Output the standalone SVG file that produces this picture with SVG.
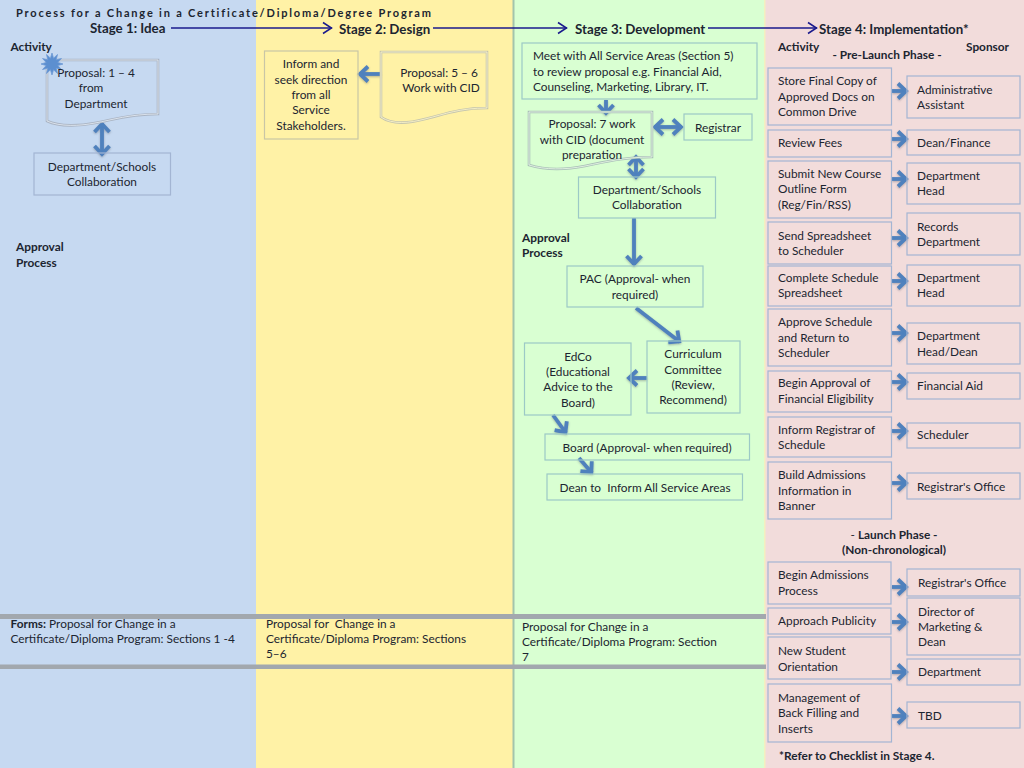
<svg xmlns="http://www.w3.org/2000/svg" width="1024" height="768" viewBox="0 0 1024 768">
<style>
text{font-family:Lato,"Open Sans","Liberation Sans",sans-serif;font-size:11.85px;fill:#1c2530}
.m{text-anchor:middle}
.b{font-weight:700}
.h{font-size:13.3px;font-weight:700}
.box{fill:none;stroke:#a3b5d3;stroke-width:1.2}
.y{stroke:#c9c6a6}
.g{stroke:#9cc9c6}
.doc{fill:none;stroke:#a9b3c2;stroke-width:2.6}
.doci{fill:none;stroke:#e6edf6;stroke-width:.8}
.arr{fill:none;stroke:#4f81bd;stroke-width:3.8;marker-end:url(#head)}
.two{marker-start:url(#head)}
.stage{fill:none;stroke:#1a1a8c;stroke-width:1.5;marker-end:url(#open)}
.bar{fill:#a2a8ae}
</style>
<defs>
<marker id="head" markerUnits="userSpaceOnUse" viewBox="-12 -10 14 20" refX="0" refY="0" markerWidth="14" markerHeight="20" orient="auto-start-reverse">
<path d="M-9,-7.500 L-1,0 L-9,7.500" fill="none" stroke="#4f81bd" stroke-width="3.8"/>
</marker>
<marker id="open" markerUnits="userSpaceOnUse" viewBox="-11 -7 12 14" refX="0" refY="0" markerWidth="12" markerHeight="14" orient="auto">
<path d="M-9,-5.500 L-.5,0 L-9,5.500" fill="none" stroke="#1a1a8c" stroke-width="1.5"/>
</marker>
<filter id="sh" x="-30%" y="-30%" width="160%" height="160%">
<feDropShadow dx="0" dy="1" stdDeviation="1" flood-color="#5a6470" flood-opacity=".45"/>
</filter>
</defs>

<g id="background">
<rect x="0" y="0" width="256" height="768" fill="#c6d9f1"/>
<rect x="256" y="0" width="257" height="768" fill="#fff2a6"/>
<rect x="513" y="0" width="252" height="768" fill="#d9ffd2"/>
<rect x="765" y="0" width="259" height="768" fill="#f2dcdb"/>
<rect x="512.500" y="0" width="2" height="768" fill="#a3c4ab"/>
<rect x="764" y="0" width="1.500" height="768" fill="#f4f0c0"/>
<rect class="bar" x="0" y="614" width="766" height="5"/>
<rect class="bar" x="0" y="664.500" width="766" height="4.500"/>
</g>

<g id="title"><text class="b" x="16" y="17" style="font-size:11px;letter-spacing:1.82px">Process for a Change in a Certificate/Diploma/Degree Program</text></g>

<g id="stage-1"><text class="h" x="90" y="32.500">Stage 1: Idea</text></g>
<g id="stage-2"><text class="h" x="339" y="33.500">Stage 2: Design</text></g>
<g id="stage-3"><text class="h" x="575" y="33.500">Stage 3: Development</text></g>
<g id="stage-4"><text class="h" x="819" y="33.500">Stage 4: Implementation*</text></g>

<g id="labels">
<text class="b" x="10.500" y="51">Activity</text>
<text class="b" x="16" y="251">Approval</text>
<text class="b" x="16" y="267">Process</text>
<text class="b" x="522" y="242">Approval</text>
<text class="b" x="522" y="257">Process</text>
<text class="b" x="778" y="51">Activity</text>
<text class="b" x="966" y="51">Sponsor</text>
<text class="b m" x="887" y="59">- Pre-Launch Phase -</text>
<text class="m" x="894" y="539"><tspan>- </tspan><tspan class="b">Launch Phase -</tspan></text>
<text class="b m" x="894" y="554">(Non-chronological)</text>
<text class="b" x="779" y="760">*Refer to Checklist in Stage 4.</text>
</g>

<g id="forms">
<text x="10.500" y="628"><tspan class="b">Forms:</tspan> Proposal for Change in a</text>
<text x="10.500" y="643">Certificate/Diploma Program: Sections 1 -4</text>
<text x="266" y="628" xml:space="preserve">Proposal for  Change in a</text>
<text x="266" y="643">Certificate/Diploma Program: Sections</text>
<text x="266" y="658">5–6</text>
<text x="522" y="631">Proposal for Change in a</text>
<text x="522" y="646">Certificate/Diploma Program: Section</text>
<text x="522" y="661">7</text>
</g>

<g id="connectors">
<line class="stage" x1="171" y1="28" x2="332" y2="28"/>
<line class="stage" x1="433" y1="28" x2="567" y2="28"/>
<line class="stage" x1="708" y1="28" x2="817" y2="28"/>
<g filter="url(#sh)">
<line class="arr two" x1="102" y1="123" x2="102" y2="155"/>
<line class="arr" x1="381" y1="74" x2="359" y2="74"/>
<line class="arr" x1="606" y1="100" x2="606" y2="114"/>
<line class="arr two" x1="654" y1="127" x2="682" y2="127"/>
<line class="arr two" x1="636" y1="156" x2="636" y2="178"/>
<line class="arr" x1="634" y1="218" x2="634" y2="265"/>
<line class="arr" x1="636" y1="308" x2="680" y2="342"/>
<line class="arr" x1="647" y1="378" x2="628" y2="378"/>
<line class="arr" x1="553" y1="415" x2="566" y2="433"/>
<line class="arr" x1="579" y1="458" x2="592" y2="473"/>
<line class="arr" x1="892" y1="91" x2="907" y2="91"/>
<line class="arr" x1="892" y1="139" x2="907" y2="139"/>
<line class="arr" x1="892" y1="179" x2="907" y2="179"/>
<line class="arr" x1="892" y1="238" x2="907" y2="238"/>
<line class="arr" x1="892" y1="281" x2="907" y2="281"/>
<line class="arr" x1="892" y1="333" x2="907" y2="333"/>
<line class="arr" x1="892" y1="382" x2="907" y2="382"/>
<line class="arr" x1="892" y1="431" x2="907" y2="431"/>
<line class="arr" x1="892" y1="483" x2="907" y2="483"/>
<line class="arr" x1="892" y1="587" x2="907" y2="587"/>
<line class="arr" x1="892" y1="622" x2="907" y2="622"/>
<line class="arr" x1="892" y1="672" x2="907" y2="672"/>
<line class="arr" x1="892" y1="716" x2="907" y2="716"/>
</g>
</g>

<g id="n-proposal-1">
<path class="doc" d="M47 60H158V114C130 114 112 120 95 123C80 126 60 127 47 121Z"/>
<path class="doci" d="M47 60H158V114C130 114 112 120 95 123C80 126 60 127 47 121Z"/>
<polygon points="63,64 57.800,65.550 61.500,69.500 56.240,68.240 57.500,73.500 53.550,69.800 52,75 50.450,69.800 46.500,73.500 47.760,68.240 42.500,69.500 46.200,65.550 41,64 46.200,62.450 42.500,58.500 47.760,59.760 46.500,54.500 50.450,58.200 52,53 53.550,58.200 57.500,54.500 56.240,59.760 61.500,58.500 57.800,62.450" fill="#5c8fd0" stroke="#6f9bd6" stroke-width=".8"/>
<text class="m" x="96" y="77">Proposal: 1 – 4</text>
<text class="m" x="91" y="92">from</text>
<text class="m" x="96" y="108">Department</text>
</g>
<g id="n-dept-schools-1">
<rect class="box" x="34" y="153" width="136.500" height="42"/>
<text class="m" x="102" y="171">Department/Schools</text>
<text class="m" x="102" y="186">Collaboration</text>
</g>

<g id="n-inform">
<rect class="box y" x="264.500" y="51" width="93.500" height="88"/>
<text class="m" x="311" y="68">Inform and</text>
<text class="m" x="311" y="84">seek direction</text>
<text class="m" x="311" y="99">from all</text>
<text class="m" x="311" y="114">Service</text>
<text class="m" x="311" y="130">Stakeholders.</text>
</g>
<g id="n-proposal-2">
<path class="doc" d="M381 52H487V108C460 108 445 114 425 119C410 123 392 125 381 117Z" style="stroke:#c5c5ad"/>
<path class="doci" d="M381 52H487V108C460 108 445 114 425 119C410 123 392 125 381 117Z" style="stroke:#fff8cc"/>
<text class="m" x="439" y="77">Proposal: 5 – 6</text>
<text class="m" x="441" y="92">Work with CID</text>
</g>

<g id="n-meet">
<rect class="box g" x="522" y="43" width="235" height="56"/>
<text x="533" y="60">Meet with All Service Areas (Section 5)</text>
<text x="533" y="76">to review proposal e.g. Financial Aid,</text>
<text x="533" y="91">Counseling, Marketing, Library, IT.</text>
</g>
<g id="n-proposal-3">
<path class="doc" d="M529 112H652V157C625 157 605 162 585 166C565 170 545 170 529 165Z" style="stroke:#a9c0b8"/>
<path class="doci" d="M529 112H652V157C625 157 605 162 585 166C565 170 545 170 529 165Z" style="stroke:#ecfbe8"/>
<text class="m" x="592" y="128">Proposal: 7 work</text>
<text class="m" x="592" y="144">with CID (document</text>
<text class="m" x="592" y="159">preparation</text>
</g>
<g id="n-registrar">
<rect class="box g" x="684" y="114" width="68" height="26"/>
<text class="m" x="718" y="132">Registrar</text>
</g>
<g id="n-dept-schools-3">
<rect class="box g" x="578.500" y="177" width="137" height="41"/>
<text class="m" x="647" y="194">Department/Schools</text>
<text class="m" x="647" y="209">Collaboration</text>
</g>
<g id="n-pac">
<rect class="box g" x="567" y="266" width="136" height="41"/>
<text class="m" x="635" y="283">PAC (Approval- when</text>
<text class="m" x="635" y="299">required)</text>
</g>
<g id="n-curriculum">
<rect class="box g" x="647" y="341" width="93" height="72"/>
<text class="m" x="693" y="358">Curriculum</text>
<text class="m" x="693" y="374">Committee</text>
<text class="m" x="693" y="389">(Review,</text>
<text class="m" x="693" y="404">Recommend)</text>
</g>
<g id="n-edco">
<rect class="box g" x="524.500" y="343" width="106.500" height="72"/>
<text class="m" x="578" y="361">EdCo</text>
<text class="m" x="578" y="376">(Educational</text>
<text class="m" x="578" y="391">Advice to the</text>
<text class="m" x="578" y="407">Board)</text>
</g>
<g id="n-board">
<rect class="box g" x="545" y="434" width="204.500" height="26"/>
<text class="m" x="647" y="452">Board (Approval- when required)</text>
</g>
<g id="n-dean">
<rect class="box g" x="547" y="474" width="195.500" height="26"/>
<text class="m" x="645" y="492" xml:space="preserve">Dean to  Inform All Service Areas</text>
</g>

<g id="n-a1"><rect class="box" x="768" y="68" width="123.500" height="57"/>
<text x="778" y="85">Store Final Copy of</text><text x="778" y="101">Approved Docs on</text><text x="778" y="116">Common Drive</text></g>
<g id="n-a2"><rect class="box" x="768" y="130" width="123.500" height="27"/>
<text x="778" y="147">Review Fees</text></g>
<g id="n-a3"><rect class="box" x="768" y="161" width="123.500" height="57"/>
<text x="778" y="178">Submit New Course</text><text x="778" y="193">Outline Form</text><text x="778" y="209">(Reg/Fin/RSS)</text></g>
<g id="n-a4"><rect class="box" x="768" y="222" width="123.500" height="42"/>
<text x="778" y="240">Send Spreadsheet</text><text x="778" y="255">to Scheduler</text></g>
<g id="n-a5"><rect class="box" x="768" y="266" width="123.500" height="40"/>
<text x="778" y="282">Complete Schedule</text><text x="778" y="297">Spreadsheet</text></g>
<g id="n-a6"><rect class="box" x="768" y="309" width="123.500" height="57"/>
<text x="778" y="326">Approve Schedule</text><text x="778" y="342">and Return to</text><text x="778" y="357">Scheduler</text></g>
<g id="n-a7"><rect class="box" x="768" y="371" width="123.500" height="41"/>
<text x="778" y="387">Begin Approval of</text><text x="778" y="403">Financial Eligibility</text></g>
<g id="n-a8"><rect class="box" x="768" y="417" width="123.500" height="40"/>
<text x="778" y="434">Inform Registrar of</text><text x="778" y="449">Schedule</text></g>
<g id="n-a9"><rect class="box" x="768" y="462" width="123.500" height="57"/>
<text x="778" y="479">Build Admissions</text><text x="778" y="495">Information in</text><text x="778" y="510">Banner</text></g>

<g id="n-s1"><rect class="box" x="907" y="76" width="113" height="42"/>
<text x="917" y="94">Administrative</text><text x="917" y="109">Assistant</text></g>
<g id="n-s2"><rect class="box" x="907" y="130" width="113" height="25"/>
<text x="917" y="147">Dean/Finance</text></g>
<g id="n-s3"><rect class="box" x="907" y="163" width="113" height="41"/>
<text x="917" y="180">Department</text><text x="917" y="195">Head</text></g>
<g id="n-s4"><rect class="box" x="907" y="213" width="113" height="42"/>
<text x="917" y="231">Records</text><text x="917" y="246">Department</text></g>
<g id="n-s5"><rect class="box" x="907" y="265" width="113" height="41"/>
<text x="917" y="282">Department</text><text x="917" y="297">Head</text></g>
<g id="n-s6"><rect class="box" x="907" y="323" width="113" height="41"/>
<text x="917" y="340">Department</text><text x="917" y="356">Head/Dean</text></g>
<g id="n-s7"><rect class="box" x="907" y="373" width="113" height="26"/>
<text x="917" y="390">Financial Aid</text></g>
<g id="n-s8"><rect class="box" x="907" y="423" width="113" height="25"/>
<text x="917" y="439">Scheduler</text></g>
<g id="n-s9"><rect class="box" x="907" y="473" width="113" height="26"/>
<text x="917" y="491">Registrar's Office</text></g>

<g id="n-l1"><rect class="box" x="768" y="562" width="123" height="42"/>
<text x="778" y="579">Begin Admissions</text><text x="778" y="595">Process</text></g>
<g id="n-l2"><rect class="box" x="768" y="608" width="123" height="26"/>
<text x="778" y="625">Approach Publicity</text></g>
<g id="n-l3"><rect class="box" x="768" y="637" width="123" height="42"/>
<text x="778" y="655">New Student</text><text x="778" y="671">Orientation</text></g>
<g id="n-l4"><rect class="box" x="768" y="684" width="123.500" height="58"/>
<text x="778" y="702">Management of</text><text x="778" y="717">Back Filling and</text><text x="778" y="733">Inserts</text></g>

<g id="n-t1"><rect class="box" x="907" y="569" width="113" height="27"/>
<text x="918" y="587">Registrar's Office</text></g>
<g id="n-t2"><rect class="box" x="907" y="598" width="113" height="57"/>
<text x="918" y="616">Director of</text><text x="918" y="631">Marketing &amp;</text><text x="918" y="646">Dean</text></g>
<g id="n-t3"><rect class="box" x="907" y="659" width="113" height="26"/>
<text x="918" y="676">Department</text></g>
<g id="n-t4"><rect class="box" x="907" y="702" width="113" height="26"/>
<text x="918" y="720">TBD</text></g>
</svg>
